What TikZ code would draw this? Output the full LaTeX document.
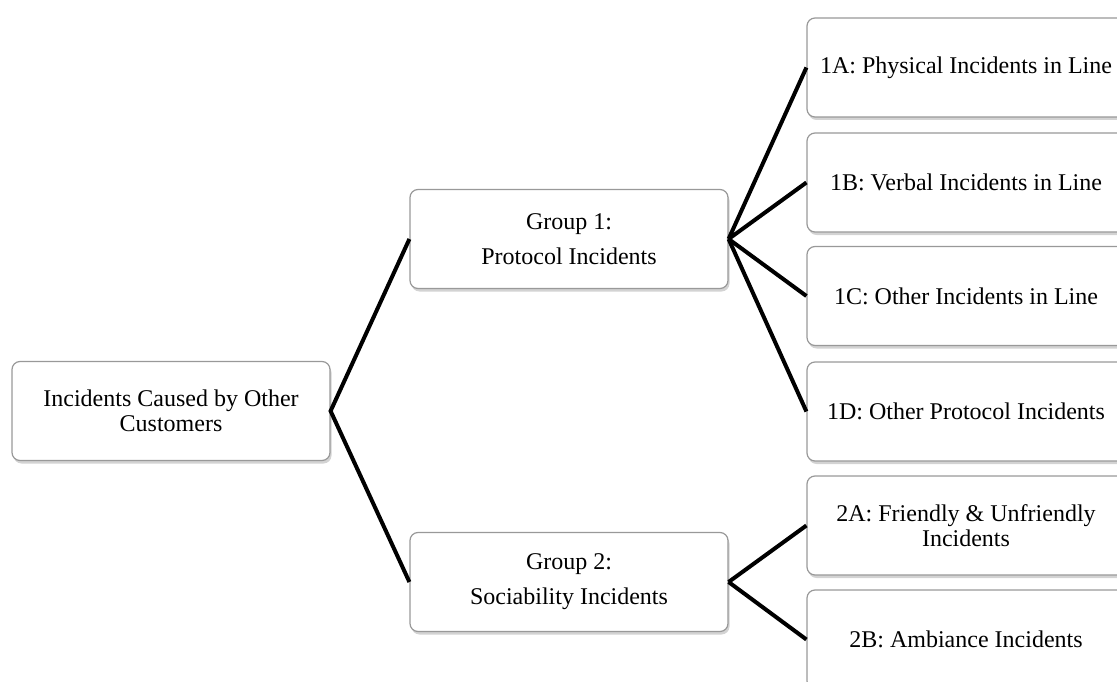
\documentclass[tikz,border=0pt]{standalone}
\usepackage{fontspec}
\setmainfont{Liberation Serif}
\usepackage{tikz}
\usetikzlibrary{shadows}

\tikzset{
    box/.style={draw=black!40,line width=1.2pt,fill=white,rounded corners=8pt,
        minimum width=318pt,minimum height=99pt,inner sep=0pt,align=center,
        font=\fontsize{24}{25}\selectfont,
        drop shadow={shadow xshift=1.5pt,shadow yshift=-3pt,opacity=0.35}},
    link/.style={line width=4pt}
}

\begin{document}
\begin{tikzpicture}[x=1pt,y=-1pt]
                \useasboundingbox (0,0) rectangle (1117,682);
                \clip (0,0) rectangle (1117,682);
                \node[box] (root) at (171,411) {Incidents Caused by Other\\Customers};
                \node[box] (grpone) at (569,239) {Group 1:\\[10pt]Protocol Incidents};
                \node[box] (grptwo) at (569,582) {Group 2:\\[10pt]Sociability Incidents};
                \node[box] (onea) at (966,67.5) {1A: Physical Incidents in Line};
                \node[box] (oneb) at (966,182.5) {1B: Verbal Incidents in Line};
                \node[box] (onec) at (966,296) {1C: Other Incidents in Line};
                \node[box] (oned) at (966,411.5) {1D: Other Protocol Incidents};
                \node[box] (twoa) at (966,525.5) {2A: Friendly \& Unfriendly\\Incidents};
                \node[box] (twob) at (966,639.5) {2B: Ambiance Incidents};
                \draw[link]
                    (grpone.west) -- (root.east) -- (grptwo.west);
                \foreach \leaf in {onea,oneb,onec,oned}
                    \draw[link] (grpone.east) -- (\leaf.west);
                \foreach \leaf in {twoa,twob}
                    \draw[link] (grptwo.east) -- (\leaf.west);
\end{tikzpicture}
\end{document}
